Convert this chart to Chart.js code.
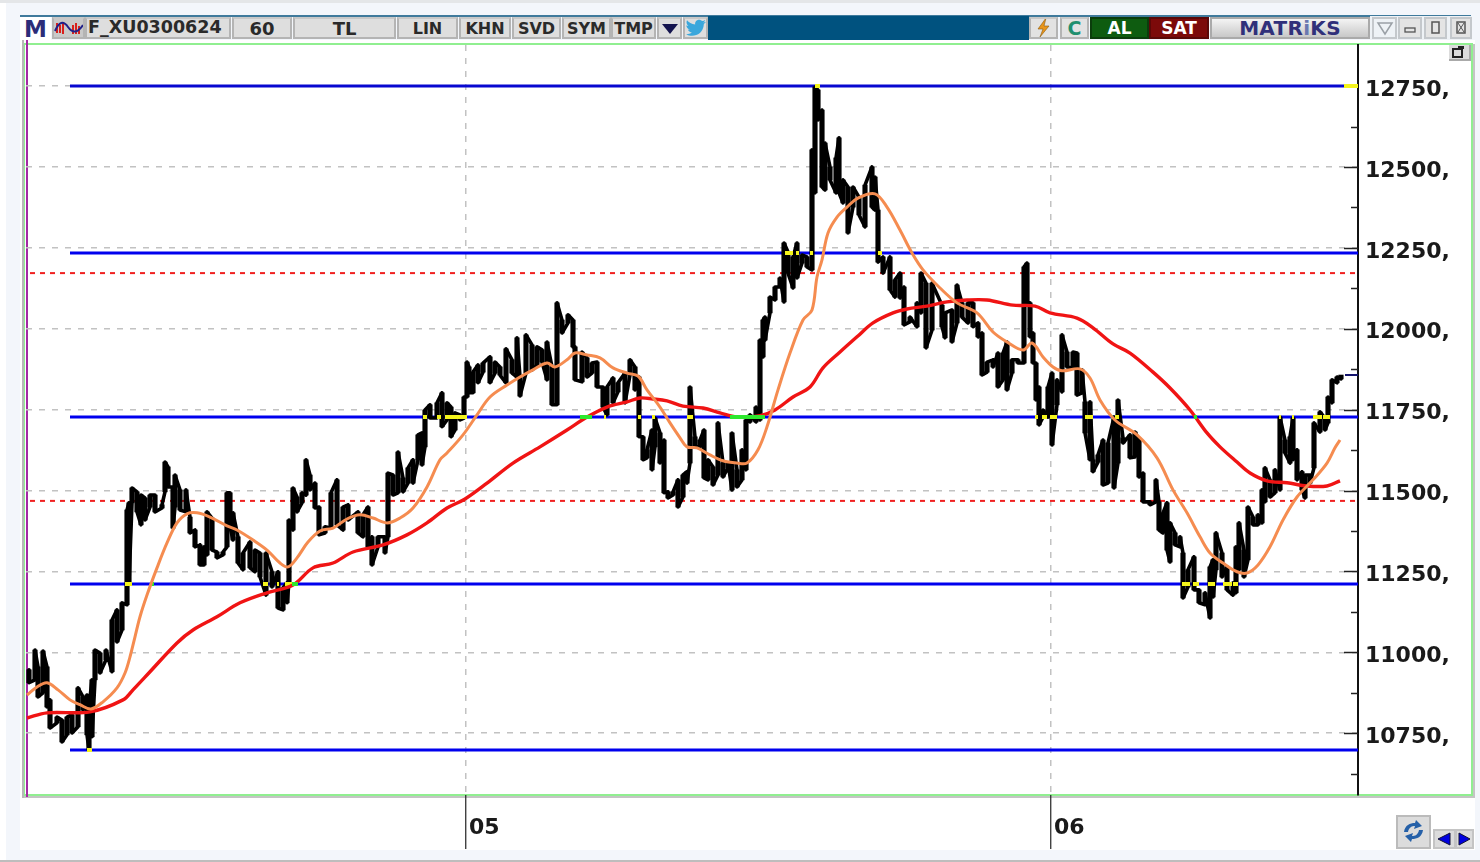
<!DOCTYPE html>
<html><head><meta charset="utf-8"><title>F_XU0300624</title>
<script src="https://cdn.jsdelivr.net/npm/chart.js@4"></script>
<style>
html,body{margin:0;padding:0;background:#fff;width:1480px;height:862px;overflow:hidden;font-family:"DejaVu Sans",sans-serif}
.abs{position:absolute;box-sizing:border-box}
#wrap{position:absolute;left:0;top:0;width:1480px;height:862px;filter:blur(.45px)}
.cell{position:absolute;top:17px;height:22px;background:#dedede;border:2px solid #b4b4b4;border-top-color:#c8c8c8;box-sizing:border-box;text-align:center;font-weight:bold;line-height:19px;color:#2a2a2a;font-size:16px;overflow:hidden;white-space:nowrap}
canvas{position:absolute;left:0;top:0}
</style></head><body>
<div id="wrap">
<div class="abs" style="left:0;top:0;width:1480px;height:3px;background:#e4e6e8"></div>
<div class="abs" style="left:6px;top:3px;width:1474px;height:857px;background:#f3f6fb"></div>
<div class="abs" style="left:0;top:860px;width:1480px;height:2px;background:#bdbdbd"></div>
<div class="abs" style="left:20px;top:40px;width:1455px;height:810px;background:#fff"></div>
<div class="abs" style="left:20px;top:15px;width:1451px;height:2px;background:#3f7a9c"></div>
<div class="abs" style="left:708px;top:16px;width:321px;height:24px;background:#00527f"></div>
<div class="abs" style="left:1370px;top:16px;width:102px;height:24px;background:#eef2f6"></div>
<div class="abs" style="left:22px;top:40px;width:2px;height:758px;background:#b8b8b8"></div>
<div class="abs" style="left:24px;top:43px;width:1449px;height:753px;border:2px solid #90ef90;border-left-width:1px"></div>
<div class="abs" style="left:24px;top:796px;width:1451px;height:2px;background:#c4c4c4"></div>
<div class="abs" style="left:1473px;top:44px;width:2px;height:754px;background:#c4c4c4"></div>
<div class="abs" style="left:26px;top:40px;width:2px;height:757px;background:#a42aa4"></div>

<div class="abs" style="left:20px;top:17px;width:31px;height:23px;background:#fff;color:#2c2c78;font-weight:bold;font-size:23px;line-height:24px;text-align:center">M</div>
<div class="cell" style="left:52px;width:33px;background:#c9c9c9">
<svg width="30" height="18" viewBox="0 0 30 18" style="position:absolute;left:0;top:0"><path d="M3 4v10M6 6v8M9 3v12M19 6v9M22 4v11M25 7v8" stroke="#d8201c" stroke-width="2"/><path d="M1 12 Q7 -2 14 8 T29 6" fill="none" stroke="#20208a" stroke-width="2"/></svg></div>
<div class="cell" style="left:85px;width:146px;font-size:17.5px;line-height:17px;text-align:left;padding-left:1px">F_XU0300624</div>
<div class="cell" style="left:232px;width:60px;font-size:18px">60</div>
<div class="cell" style="left:293px;width:103px;font-size:18px">TL</div>
<div class="cell" style="left:397px;width:61px">LIN</div>
<div class="cell" style="left:459px;width:52px">KHN</div>
<div class="cell" style="left:512px;width:49px">SVD</div>
<div class="cell" style="left:562px;width:49px">SYM</div>
<div class="cell" style="left:611px;width:45px">TMP</div>
<div class="cell" style="left:657px;width:25px"><svg width="20" height="18" style="position:absolute;left:1px;top:0"><path d="M2 5h16l-8 10z" fill="#14144e"/></svg></div>
<div class="cell" style="left:683px;width:25px"><svg width="22" height="18" viewBox="0 0 24 20" style="position:absolute;left:0;top:0"><path d="M23 3c-1 .5-2 .7-3 .8 1-.6 2-1.600 2.200-2.700-1 .6-2.100 1-3.200 1.200C17 1 15.500.5 14 1c-2.400.8-3.400 3-2.900 5C7 6 4 4 2 1.500 1 3.500 1.500 6 3.500 7.500c-.8 0-1.500-.2-2.200-.6 0 2.300 1.600 4.300 3.900 4.800-.7.2-1.500.2-2.200.1.600 1.900 2.400 3.200 4.400 3.300C5.500 16.500 3 17.200 1 17c7 4 19 1.500 19.800-11.600C21.800 4.700 22.500 3.900 23 3z" fill="#3aa7dc"/></svg></div>

<div class="cell" style="left:1029px;width:29px;background:#e2e2e2"><svg width="18" height="20" style="position:absolute;left:4px;top:-1px"><path d="M11 0 3 11h5l-3 8 9-11H9z" fill="#e8951a" stroke="#8a5a10" stroke-width=".6"/></svg></div>
<div class="cell" style="left:1060px;width:29px;color:#1f8f6f;font-size:19px;background:#e2e2e2">C</div>
<div class="cell" style="left:1090px;width:59px;background:#0e5c10;color:#fff;border-color:#0b3d0c;font-size:17px">AL</div>
<div class="cell" style="left:1149px;width:60px;background:#7c0a0a;color:#fff;border-color:#5a0808;font-size:17px">SAT</div>
<div class="cell" style="left:1210px;width:160px;background:linear-gradient(#f4f4f4,#c8c8c8);color:#30307a;font-size:20px;letter-spacing:.3px;border-color:#aaa">MATR<span style="color:#6a78b0">i</span>KS</div>
<div class="cell" style="left:1372px;width:25px;background:#eef2f6;border-color:#c4c8cc"><svg width="20" height="18" style="position:absolute;left:1px;top:0"><path d="M3 4h14l-7 11z" fill="none" stroke="#9aa0a6" stroke-width="1.500"/></svg></div>
<div class="cell" style="left:1398px;width:24px;background:#e4e4e4;border-color:#c4c8cc"><svg width="20" height="18" style="position:absolute;left:0;top:0"><rect x="5" y="9" width="10" height="4" fill="none" stroke="#555" stroke-width="1.300"/></svg></div>
<div class="cell" style="left:1424px;width:23px;background:#e4e4e4;border-color:#c4c8cc"><svg width="20" height="18" style="position:absolute;left:0;top:0"><rect x="6" y="3" width="7" height="11" fill="none" stroke="#555" stroke-width="1.500"/></svg></div>
<div class="cell" style="left:1450px;width:22px;background:#e4e4e4;border-color:#c4c8cc"><svg width="18" height="18" style="position:absolute;left:0;top:0"><rect x="5" y="3" width="8" height="11" fill="none" stroke="#555" stroke-width="1.500"/><path d="M6 4l6 9M12 4l-6 9" stroke="#555"/></svg></div>

<canvas id="c" width="1480" height="862"></canvas>

<div class="abs" style="left:1449px;top:45px;width:22px;height:16px;background:#dcdcdc;border-right:2px solid #aaa;border-bottom:2px solid #aaa"><svg width="20" height="14" style="position:absolute;left:0;top:0"><rect x="4" y="4" width="9" height="8" fill="none" stroke="#222" stroke-width="2"/><rect x="9" y="1" width="6" height="3" fill="#222"/></svg></div>
<div class="abs" style="left:1396px;top:815px;width:35px;height:34px;background:#dcdcdc;border:2px solid #bbb"><svg width="31" height="30" viewBox="0 0 31 30" style="position:absolute;left:0;top:0"><path d="M6 15C7 8 12 6 17 6l1-3 6 6-8 3 1-3c-3 0-6 1-7 6z" fill="#2560a8"/><path d="M25 13c-1 7-6 9-11 9l-1 3-6-6 8-3-1 3c3 0 6-1 7-6z" fill="#2560a8"/></svg></div>
<div class="abs" style="left:1433px;top:829px;width:23px;height:20px;background:#dcdcdc;border:2px solid #c4c4c4"><svg width="19" height="16" style="position:absolute;left:0;top:0"><path d="M15 2v12L3 8z" fill="#0000e0" stroke="#113"/></svg></div>
<div class="abs" style="left:1455px;top:829px;width:19px;height:20px;background:#dcdcdc;border:2px solid #c4c4c4"><svg width="15" height="16" style="position:absolute;left:0;top:0"><path d="M2 2v12l11-6z" fill="#0000e0" stroke="#113"/></svg></div>
</div>
<script>
// bar position along the time axis
const priceX = [29,35,38,43,47,50,57,62,67,72,78,83,87,89,92,95,100,106,112,117,122,127,129,132,137,141,145,150,155,162,165,168,173,175,180,186,190,195,200,204,207,212,217,223,227,230,233,238,243,250,255,260,266,272,278,283,287,289,293,297,302,306,310,315,319,325,331,337,343,348,358,363,368,372,378,385,388,393,398,403,408,413,418,422,425,430,437,442,447,451,455,460,464,467,469,473,478,483,490,495,500,506,512,517,520,526,532,537,542,547,552,557,562,568,573,575,582,587,592,597,603,607,613,618,625,630,635,639,643,647,652,655,660,664,668,673,678,683,687,690,695,700,704,708,713,718,723,728,732,737,742,746,750,756,760,763,765,770,775,780,784,788,793,797,802,807,812,815,818,822,825,830,836,839,843,848,853,859,865,872,875,878,883,890,895,900,904,910,917,921,926,932,942,945,952,957,962,968,973,978,982,987,993,998,1003,1007,1012,1018,1024,1027,1030,1033,1036,1039,1043,1048,1052,1057,1062,1067,1073,1077,1082,1085,1090,1093,1098,1103,1108,1114,1118,1123,1130,1135,1139,1143,1150,1156,1159,1163,1167,1170,1175,1180,1183,1188,1194,1199,1205,1210,1213,1216,1222,1227,1233,1236,1239,1244,1248,1253,1258,1262,1265,1270,1275,1280,1285,1290,1293,1297,1302,1305,1310,1314,1320,1325,1328,1332,1337,1341];
const priceHigh = [10946,11007,10955,11004,10955,10853,10800,10791,10800,10807,10890,10862,10868,10831,10915,11007,10998,11007,11100,11131,11153,11440,11462,11508,11496,11486,11477,11486,11486,11456,11588,11573,11511,11548,11502,11502,11418,11378,11332,11326,11434,11415,11310,11310,11493,11493,11431,11357,11307,11341,11316,11307,11307,11249,11249,11199,11215,11409,11508,11480,11493,11595,11548,11523,11449,11388,11493,11533,11449,11456,11434,11425,11449,11357,11357,11357,11554,11548,11619,11539,11570,11595,11672,11678,11749,11765,11771,11802,11771,11758,11740,11734,11789,11897,11882,11866,11888,11894,11913,11897,11882,11938,11904,11972,11851,11981,11950,11944,11935,11959,11882,12080,12027,12043,12027,11944,11928,11910,11894,11897,11820,11820,11848,11833,11863,11904,11882,11851,11666,11626,11687,11724,11678,11656,11496,11496,11533,11548,11558,11820,11666,11656,11687,11595,11573,11709,11585,11585,11678,11564,11626,11718,11734,11758,11965,12027,12036,12098,12129,12157,12265,12237,12222,12265,12228,12222,12553,12747,12738,12676,12574,12500,12528,12590,12460,12438,12438,12407,12444,12500,12469,12367,12222,12222,12151,12172,12129,12036,12080,12172,12141,12141,12073,12049,12058,12135,12080,12080,12080,12018,11987,11897,11904,11925,11925,11959,11904,11904,12191,12203,12080,11987,11894,11820,11749,11820,11863,11842,11981,11928,11928,11925,11873,11774,11774,11595,11610,11656,11647,11727,11780,11663,11672,11681,11656,11554,11465,11533,11465,11431,11462,11400,11369,11357,11307,11255,11295,11193,11184,11264,11286,11369,11307,11264,11215,11326,11400,11316,11449,11418,11425,11502,11570,11533,11564,11727,11656,11666,11724,11626,11558,11548,11548,11709,11743,11724,11789,11842,11851,11857];
const priceLow = [10906,10915,10862,10875,10831,10766,10782,10723,10745,10751,10770,10822,10745,10698,10739,10915,10936,10977,10940,11032,11069,11147,11215,11462,11434,11394,11409,11449,11434,11446,11496,11511,11384,11449,11440,11434,11369,11326,11270,11270,11301,11316,11292,11301,11326,11388,11347,11276,11255,11261,11249,11233,11177,11202,11137,11131,11153,11215,11378,11434,11462,11486,11502,11446,11363,11369,11384,11394,11378,11409,11369,11357,11326,11270,11326,11307,11357,11486,11493,11496,11523,11523,11595,11579,11635,11724,11724,11697,11718,11666,11687,11718,11724,11789,11802,11802,11833,11866,11833,11863,11857,11833,11863,11851,11792,11863,11873,11888,11897,11842,11765,11765,11987,12018,11944,11842,11836,11851,11863,11820,11758,11734,11771,11805,11771,11857,11811,11666,11595,11601,11564,11635,11585,11493,11477,11486,11449,11480,11523,11585,11635,11635,11539,11533,11517,11548,11542,11570,11502,11511,11533,11564,11712,11712,11718,11913,11965,12049,12089,12129,12083,12172,12126,12157,12203,12191,12182,12420,12645,12438,12429,12460,12420,12420,12389,12296,12376,12352,12315,12376,12367,12206,12172,12120,12098,12095,12012,12021,12006,12049,11941,11996,12006,11972,11959,12018,12036,12018,12006,11975,11857,11866,11882,11820,11842,11811,11863,11894,11894,12080,11975,11894,11780,11703,11727,11727,11641,11765,11805,11882,11879,11795,11802,11678,11595,11558,11588,11517,11523,11508,11585,11647,11601,11604,11542,11465,11456,11465,11378,11369,11316,11279,11332,11326,11168,11202,11193,11153,11147,11106,11171,11255,11233,11193,11177,11184,11255,11233,11286,11394,11394,11400,11465,11480,11493,11502,11616,11585,11595,11533,11502,11477,11523,11570,11681,11687,11709,11771,11833,11845];

const fastX = [27,37,47,58,70,80,91,103,117,125,130,135,140,147,157,167,177,187,197,210,227,237,253,267,280,288,297,308,320,333,347,360,373,387,400,413,427,440,447,463,477,490,507,520,533,547,555,567,575,587,600,613,627,638,647,660,670,680,687,697,710,723,737,747,758,767,778,790,803,812,817,822,828,837,847,858,875,887,900,912,923,940,957,977,993,1007,1023,1032,1043,1053,1062,1080,1090,1100,1115,1137,1157,1173,1187,1200,1210,1223,1237,1247,1258,1270,1283,1297,1313,1327,1335,1340];
const fastMA = [10868,10893,10906,10884,10853,10838,10825,10847,10890,10936,10986,11048,11110,11177,11261,11338,11400,11428,11431,11418,11391,11378,11347,11316,11276,11264,11292,11341,11375,11384,11412,11425,11415,11400,11415,11446,11511,11595,11616,11672,11734,11789,11826,11851,11873,11894,11882,11904,11925,11919,11910,11879,11863,11854,11811,11758,11709,11663,11635,11632,11610,11592,11585,11585,11626,11697,11811,11925,12027,12058,12160,12213,12296,12345,12376,12404,12417,12376,12305,12234,12182,12126,12080,12049,11990,11959,11934,11956,11913,11882,11870,11876,11848,11780,11718,11672,11601,11502,11431,11357,11307,11276,11249,11245,11270,11326,11409,11480,11533,11585,11632,11656];

const slowX = [27,47,90,123,133,150,177,193,217,240,267,293,313,333,353,383,407,427,447,465,487,513,540,567,587,607,627,640,653,667,683,703,720,737,760,775,793,810,823,840,857,873,893,907,927,947,967,987,1013,1035,1050,1077,1093,1113,1130,1153,1170,1190,1207,1220,1237,1250,1267,1287,1307,1327,1340];
const slowMA = [10797,10813,10816,10853,10884,10940,11029,11069,11110,11153,11184,11208,11261,11276,11310,11332,11363,11400,11446,11474,11523,11585,11635,11687,11727,11758,11774,11786,11783,11777,11761,11755,11740,11727,11731,11749,11789,11820,11879,11928,11975,12018,12049,12061,12070,12083,12089,12089,12073,12070,12049,12033,12003,11953,11925,11866,11817,11749,11678,11635,11588,11554,11530,11524,11514,11514,11530];

const supportLevels = [12750,12234,11727,11211,10698];
const dashedLevels = [12172,11468];
const lastPrice = 11857;
const yTickLabels = [10750,11000,11250,11500,11750,12000,12250,12500,12750];
const yMinorTicks = [10625,10875,11125,11375,11625,11875,12125,12375,12625];
const xTickValues = [466,1051];
const xTickLabels = ['05','06'];

const yellowMarks = [[12750,815,820],[12750,1344,1358],[10698,87,92],
 [11211,125,132],[11211,263,268],[11211,277,279],[11211,285,292],[11211,1182,1190],[11211,1193,1199],[11211,1208,1215],[11211,1223,1232],[11211,1233,1238],
 [12234,785,793],[12234,796,799],[12234,810,813],[12234,878,882],
 [11727,423,427],[11727,437,441],[11727,445,467],[11727,604,606],[11727,638,641],[11727,652,655],[11727,687,693],[11727,1035,1038],[11727,1042,1047],[11727,1050,1057],[11727,1085,1093],[11727,1115,1119],[11727,1279,1281],[11727,1292,1294],[11727,1313,1322],[11727,1323,1330]];
const greenMarks = [[11211,152,154],[11211,292,298],[11727,580,592],[11727,730,765],[11727,769,771],[11727,1111,1113],[11727,1194,1197],[12234,822,824],[12234,911,913]];

function rangesToPoints(list){
  const pts=[];
  list.forEach(([y,a,b])=>{pts.push({x:a,y},{x:b,y},{x:b,y:null});});
  return pts;
}
function pricePath(){
  const pts=[]; let cur=priceHigh[0];
  priceX.forEach((x,i)=>{
    const hi=priceHigh[i], lo=priceLow[i];
    const first=Math.abs(cur-hi)<Math.abs(cur-lo)?hi:lo, second=first===hi?lo:hi;
    pts.push({x,y:first},{x,y:second}); cur=second;
  });
  return pts;
}
const zip=(xs,ys)=>xs.map((x,i)=>({x,y:ys[i]}));
const lineBase={type:'line',pointRadius:0,borderCapStyle:'butt',tension:0,spanGaps:false,fill:false};
const datasets=[];
dashedLevels.forEach(v=>datasets.push({...lineBase,label:'D'+v,data:[{x:30,y:v},{x:1356,y:v}],borderColor:'#f02020',borderWidth:2,borderDash:[5,5],order:8}));
supportLevels.forEach((v,i)=>datasets.push({...lineBase,label:'S'+v,data:[{x:70,y:v},{x:1358,y:v}],borderColor:i===0?'#0808d0':'#0000ee',borderWidth:3,order:7}));
datasets.push({type:'bar',label:'Aralik',data:priceX.map((x,i)=>({x,y:[priceLow[i],priceHigh[i]]})),backgroundColor:'#000',barThickness:4.5,grouped:false,order:6});
datasets.push({...lineBase,label:'Fiyat',data:pricePath(),borderColor:'#000',borderWidth:3.6,borderJoinStyle:'round',order:6});
datasets.push({...lineBase,label:'Son',data:[{x:1345,y:lastPrice},{x:1358,y:lastPrice}],borderColor:'#14146e',borderWidth:2,order:6});
datasets.push({...lineBase,label:'Sari',data:rangesToPoints(yellowMarks),borderColor:'#f4f41c',borderWidth:4,order:5});
datasets.push({...lineBase,label:'HO Yavas',data:zip(slowX,slowMA),borderColor:'#f01414',borderWidth:3.4,tension:.35,order:3});
datasets.push({...lineBase,label:'Yesil',data:rangesToPoints(greenMarks),borderColor:'#2ee82e',borderWidth:4,order:2.5});
datasets.push({...lineBase,label:'HO Hizli',data:zip(fastX,fastMA),borderColor:'#f58c50',borderWidth:3,tension:.35,order:2});

const axisFont={family:'"DejaVu Sans"',weight:'bold',size:22};
const minorMarks={id:'minorMarks',beforeDatasetsDraw(chart){
  const {ctx,scales:{y},chartArea:a}=chart;
  ctx.save();ctx.strokeStyle='#222';ctx.lineWidth=1.5;
  const mark=(v,len)=>{const p=Math.round(y.getPixelForValue(v))+.5;ctx.beginPath();ctx.moveTo(a.right-len,p);ctx.lineTo(a.right,p);ctx.stroke();};
  yTickLabels.forEach(v=>mark(v,14));
  yMinorTicks.forEach(v=>mark(v,7));
  ctx.restore();
}};
new Chart(document.getElementById('c'),{
  type:'line',
  data:{datasets},
  plugins:[minorMarks],
  options:{
    responsive:false,animation:false,
    layout:{padding:{left:26,top:45,right:0,bottom:0}},
    plugins:{legend:{display:false},tooltip:{enabled:false},title:{display:false}},
    scales:{
      x:{type:'linear',position:'bottom',min:26,max:1358,offset:false,
        afterBuildTicks:s=>{s.ticks=xTickValues.map(value=>({value}));},
        afterFit:s=>{s.height=67;},
        grid:{color:'#c2c2c2',lineWidth:1.5,tickColor:'#222',tickLength:54,tickWidth:1.2,tickBorderDash:[],drawOnChartArea:true,offset:false},
        border:{display:false,dash:[6,7]},
        ticks:{autoSkip:false,maxRotation:0,align:'start',labelOffset:3,padding:-34,color:'#1a1a1a',font:axisFont,
          callback:v=>xTickLabels[xTickValues.indexOf(v)]}},
      y:{type:'linear',position:'right',min:10559,max:12877,
        afterBuildTicks:s=>{s.ticks=yTickLabels.map(value=>({value}));},
        afterFit:s=>{s.width=122;},
        grid:{color:'#c2c2c2',lineWidth:1.5,drawTicks:false},
        border:{display:true,color:'#111',width:2,dash:[6,7]},
        ticks:{autoSkip:false,padding:7,color:'#1a1a1a',font:{...axisFont,lineHeight:.36},callback:v=>['',v+',']}}
    }
  }
});
</script>
</body></html>
